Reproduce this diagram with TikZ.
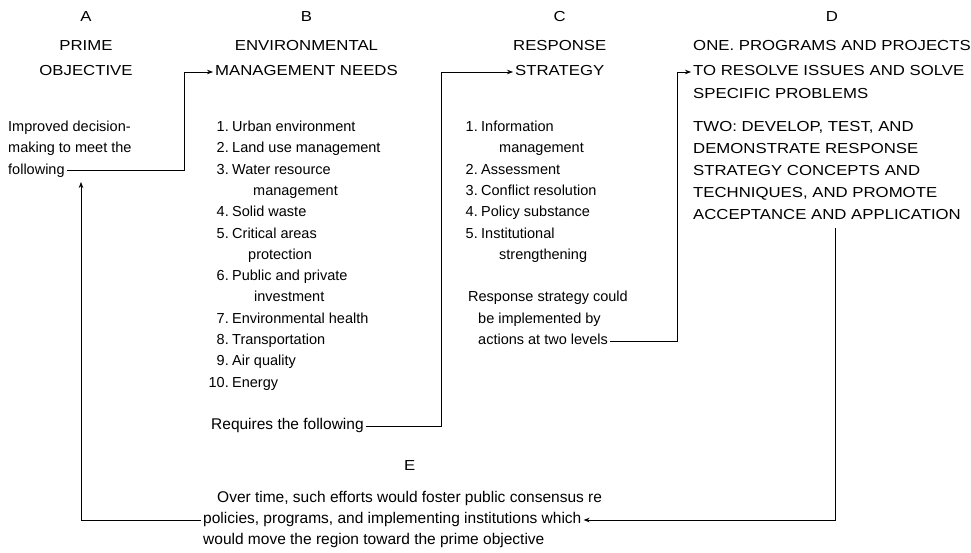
\documentclass[tikz,border=0pt]{standalone}
\usepackage{fontspec}
\setmainfont{Liberation Sans}
\newfontfamily\capsf[FakeStretch=1.156]{Liberation Sans}
\usetikzlibrary{arrows.meta}
\begin{document}
\begin{tikzpicture}[x=1pt,y=-1pt,
  font=\fontsize{14.5}{17}\selectfont,
  txt/.style={anchor=west, inner sep=2pt, text height=10pt, text depth=3pt},
  bigtxt/.style={txt, font=\fontsize{15.5}{18}\selectfont},
  captxt/.style={txt, font=\capsf\fontsize{14.5}{17}\selectfont},
  capctr/.style={captxt, anchor=center},
  numtxt/.style={txt, anchor=east},
  conn/.style={line width=0.7pt, -{Stealth[length=6pt,width=4.5pt]}}]
\useasboundingbox[fill=white] (0,0) rectangle (971,552);

% headings
\node[capctr] (prime) at (86,47) {PRIME};
\node[capctr] (obj) at (86,72) {OBJECTIVE};
\node[captxt] (mneeds) at (213,72) {MANAGEMENT NEEDS};
\node[capctr] (env) at (mneeds.center |- 0,47) {ENVIRONMENTAL};
\node[captxt] (strat) at (513,72) {STRATEGY};
\node[capctr] (resp) at (strat.center |- 0,47) {RESPONSE};

% D text
\node[captxt] (d1) at (691,47) {ONE. PROGRAMS AND PROJECTS};
\node[captxt] (d2) at (691,72) {TO RESOLVE ISSUES AND SOLVE};
\node[captxt] (d3) at (691,95) {SPECIFIC PROBLEMS};
\node[captxt] (d4) at (691,128) {TWO: DEVELOP, TEST, AND};
\node[captxt] (d5) at (691,150) {DEMONSTRATE RESPONSE};
\node[captxt] (d6) at (691,172) {STRATEGY CONCEPTS AND};
\node[captxt] (d7) at (691,194) {TECHNIQUES, AND PROMOTE};
\node[captxt] (d8) at (691,216) {ACCEPTANCE AND APPLICATION};

% column letters
\node[capctr] (la) at (prime.center |- 0,18) {A};
\node[capctr] (lb) at (env.center |- 0,18) {B};
\node[capctr] (lc) at (resp.center |- 0,18) {C};
\node[capctr] (ld) at (d1.center |- 0,18) {D};

% A text
\node[txt] (a1) at (6,128) {Improved decision-};
\node[txt] (a2) at (6,149.3) {making to meet the};
\node[txt] (a3) at (6,170.6) {following};

% B list
\node[numtxt] (bn1) at (231,128) {1.};
\node[txt] (b1) at (230,128) {Urban environment};
\node[numtxt] (bn2) at (231,149.3) {2.};
\node[txt] (b2) at (230,149.3) {Land use management};
\node[numtxt] (bn3) at (231,170.6) {3.};
\node[txt] (b3) at (230,170.6) {Water resource};
\node[txt] (b3b) at (251,191.9) {management};
\node[numtxt] (bn4) at (231,213.2) {4.};
\node[txt] (b4) at (230,213.2) {Solid waste};
\node[numtxt] (bn5) at (231,234.5) {5.};
\node[txt] (b5) at (230,234.5) {Critical areas};
\node[txt] (b5b) at (246,255.8) {protection};
\node[numtxt] (bn6) at (231,277.1) {6.};
\node[txt] (b6) at (230,277.1) {Public and private};
\node[txt] (b6b) at (252,298.4) {investment};
\node[numtxt] (bn7) at (231,319.7) {7.};
\node[txt] (b7) at (230,319.7) {Environmental health};
\node[numtxt] (bn8) at (231,341) {8.};
\node[txt] (b8) at (230,341) {Transportation};
\node[numtxt] (bn9) at (231,362.3) {9.};
\node[txt] (b9) at (230,362.3) {Air quality};
\node[numtxt] (bn10) at (231,383.6) {10.};
\node[txt] (b10) at (230,383.6) {Energy};
\node[bigtxt] (req) at (209,426) {Requires the following};

% C list
\node[numtxt] (cn1) at (480,128) {1.};
\node[txt] (c1) at (479,128) {Information};
\node[txt] (c1b) at (497,149.3) {management};
\node[numtxt] (cn2) at (480,170.6) {2.};
\node[txt] (c2) at (479,170.6) {Assessment};
\node[numtxt] (cn3) at (480,191.9) {3.};
\node[txt] (c3) at (479,191.9) {Conflict resolution};
\node[numtxt] (cn4) at (480,213.2) {4.};
\node[txt] (c4) at (479,213.2) {Policy substance};
\node[numtxt] (cn5) at (480,234.5) {5.};
\node[txt] (c5) at (479,234.5) {Institutional};
\node[txt] (c5b) at (497,255.8) {strengthening};
\node[txt] (rs1) at (466,298.4) {Response strategy could};
\node[txt] (rs2) at (476,319.7) {be implemented by};
\node[txt] (act) at (476,341) {actions at two levels};

% E text
\node[bigtxt] (e1) at (215,499) {Over time, such efforts would foster public consensus re};
\node[bigtxt] (pol) at (201,520) {policies, programs, and implementing institutions which};
\node[bigtxt] (e3) at (201,541) {would move the region toward the prime objective};
\node[capctr] (le) at (e1.center |- 0,467) {E};

% connector helpers
\coordinate (xab) at (184,0);
\coordinate (xbc) at (441,0);
\coordinate (xcd) at (677,0);
\coordinate (topde) at (835,228);
\coordinate (tipa) at (81,182);

\draw[conn] (a3.east) -- (a3.east -| xab) -- (xab |- mneeds.west) -- (mneeds.west);
\draw[conn] (req.east) -- (req.east -| xbc) -- (xbc |- strat.west) -- (strat.west);
\draw[conn] (act.east) -- (act.east -| xcd) -- (xcd |- d2.west) -- (d2.west);
\draw[conn] (topde) -- (topde |- pol.east) -- (pol.east);
\draw[conn] (pol.west) -- (pol.west -| tipa) -- (tipa);
\end{tikzpicture}
\end{document}
